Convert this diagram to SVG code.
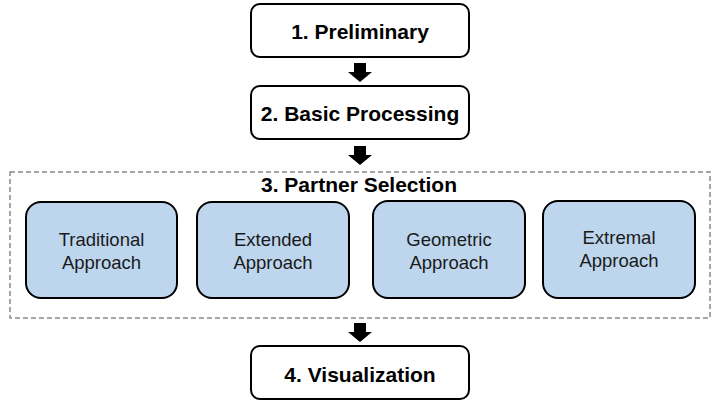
<svg xmlns="http://www.w3.org/2000/svg" width="720" height="405" viewBox="0 0 720 405">
<defs>
<style>
.step{fill:#ffffff;stroke:#000000;stroke-width:2}
.sub{fill:#bdd6ee;stroke:#000000;stroke-width:2}
.group{fill:none;stroke:#8a8a8a;stroke-width:1.5;stroke-dasharray:5 3}
.t1{font-family:"Liberation Sans",Arial,sans-serif;font-weight:bold;font-size:21px;fill:#000;text-anchor:middle}
.t2{font-family:"Liberation Sans",Arial,sans-serif;font-size:18.5px;fill:#1a1a1a;text-anchor:middle}
.arr{fill:#000000}
</style>
</defs>
<rect width="720" height="405" fill="#ffffff"/>
<g id="step1">
<rect class="step" x="251" y="4" width="218" height="53" rx="9"/>
<text class="t1" x="360" y="39">1. Preliminary</text>
</g>
<g id="step2">
<rect class="step" x="251" y="86" width="218" height="53" rx="9"/>
<text class="t1" x="360" y="121">2. Basic Processing</text>
</g>
<g id="step3">
<rect class="group" x="10" y="172" width="700" height="146"/>
<text class="t1" x="359" y="192">3. Partner Selection</text>
</g>
<g id="traditional">
<rect class="sub" x="26" y="202" width="151" height="96" rx="15"/>
<text class="t2" x="101.5" y="246">Traditional</text>
<text class="t2" x="101.5" y="269">Approach</text>
</g>
<g id="extended">
<rect class="sub" x="197" y="202" width="152" height="96" rx="15"/>
<text class="t2" x="273" y="246">Extended</text>
<text class="t2" x="273" y="269">Approach</text>
</g>
<g id="geometric">
<rect class="sub" x="373" y="201" width="152" height="97" rx="15"/>
<text class="t2" x="449" y="246">Geometric</text>
<text class="t2" x="449" y="269">Approach</text>
</g>
<g id="extremal">
<rect class="sub" x="543" y="201" width="152" height="97" rx="15"/>
<text class="t2" x="619" y="244">Extremal</text>
<text class="t2" x="619" y="267">Approach</text>
</g>
<g id="step4">
<rect class="step" x="251" y="346" width="218" height="53" rx="9"/>
<text class="t1" x="360" y="382">4. Visualization</text>
</g>
<g id="connectors">
<path class="arr" d="M354 63 H366 V72 H372 L360 82 L348 72 H354 Z"/>
<path class="arr" d="M354 146 H366 V155 H372 L360 165 L348 155 H354 Z"/>
<path class="arr" d="M354 323 H366 V332 H372 L360 342 L348 332 H354 Z"/>
</g>
</svg>
